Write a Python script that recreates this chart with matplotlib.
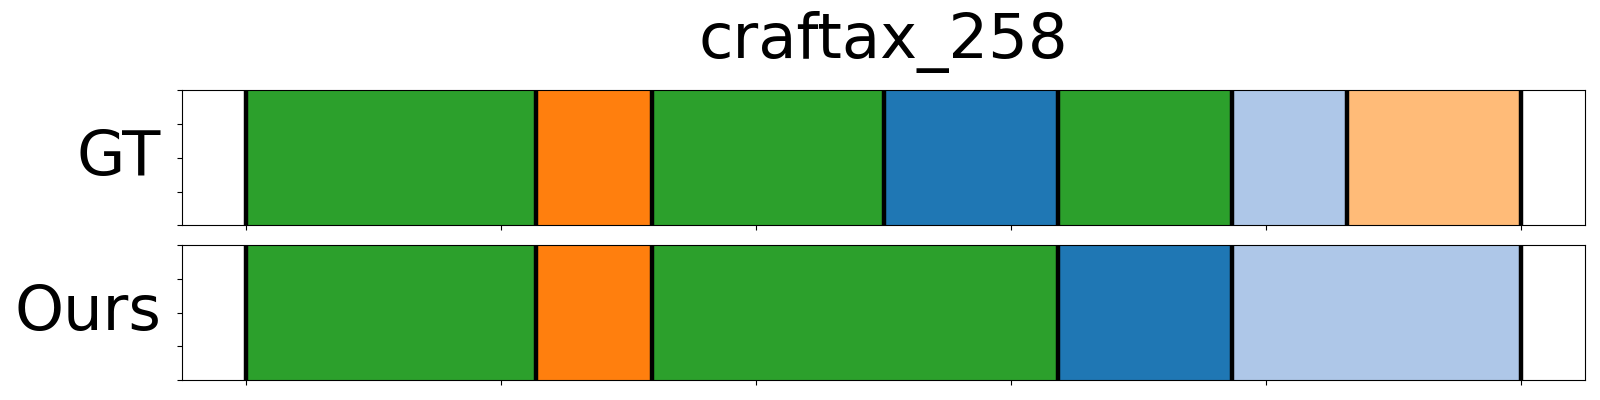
import matplotlib
matplotlib.use("Agg")
import matplotlib.pyplot as plt
import numpy as np

title = "craftax_258"
row_labels = ["GT", "Ours"]
total_len = 22

# segments: (start, end, color)
gt_starts = [0, 5, 7, 11, 14, 17, 19]
gt_ends = [5, 7, 11, 14, 17, 19, 22]
gt_colors = ["#2ca02c", "#ff7f0e", "#2ca02c", "#1f77b4", "#2ca02c", "#aec7e8", "#ffbb78"]

ours_starts = [0, 5, 7, 14, 17]
ours_ends = [5, 7, 14, 17, 22]
ours_colors = ["#2ca02c", "#ff7f0e", "#2ca02c", "#1f77b4", "#aec7e8"]

rows = [(gt_starts, gt_ends, gt_colors), (ours_starts, ours_ends, ours_colors)]

fig, axes = plt.subplots(2, 1, figsize=(16, 4), dpi=100, sharex=True)
fig.subplots_adjust(left=0.1136, right=0.9908, top=0.774, bottom=0.05, hspace=0.148)

for ax, label, (starts, ends, colors) in zip(axes, row_labels, rows):
    widths = [e - s for s, e in zip(starts, ends)]
    ax.barh(0.5, widths, left=starts, height=1.0, color=colors, edgecolor=colors, linewidth=0.5)
    bounds = sorted(set(starts) | set(ends))
    for b in bounds:
        ax.axvline(b, color="black", linewidth=3.2, zorder=3)
    ax.set_ylim(0, 1)
    ax.set_xlim(-0.05 * total_len, 1.05 * total_len)
    ax.set_yticks(np.linspace(0, 1, 5))
    ax.set_yticklabels([])
    ax.set_xticks(np.linspace(0, total_len, 6))
    ax.set_xticklabels([])
    ax.set_ylabel(label, rotation=0, ha="right", va="center", fontsize=45, labelpad=8)

axes[0].set_title(title, fontsize=45, pad=23)

fig.savefig("out.png", dpi=100)
